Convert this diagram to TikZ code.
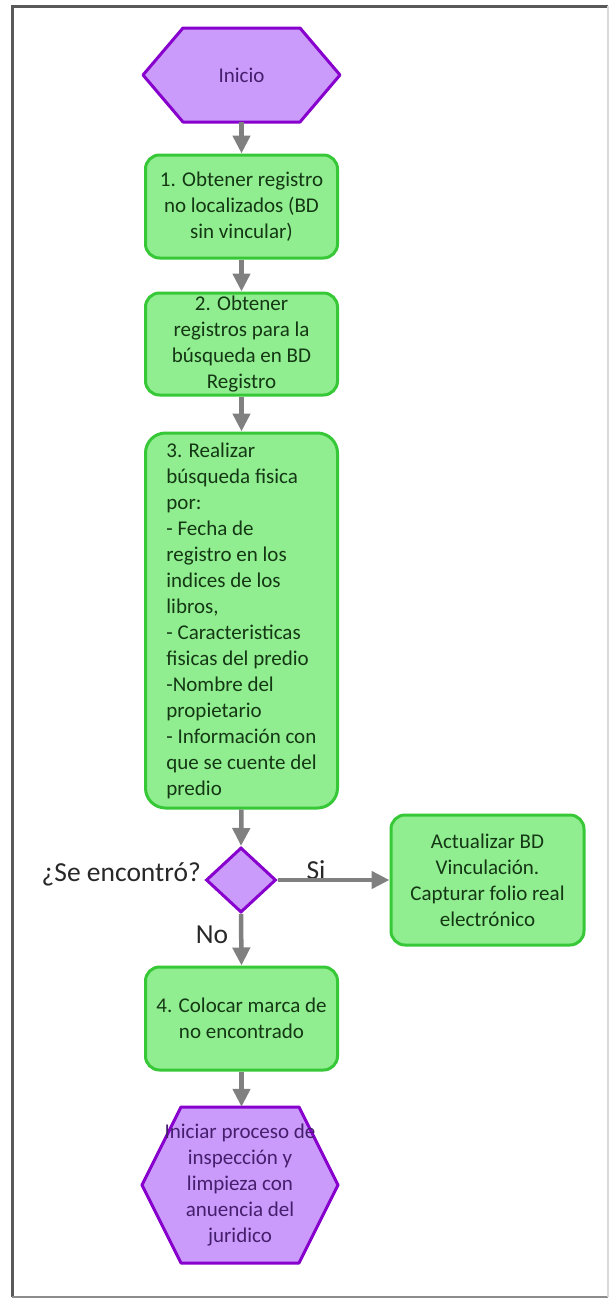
\documentclass[tikz,border=0pt]{standalone}
\usepackage{fontspec}
\setmainfont{Carlito}
\usetikzlibrary{arrows.meta,shapes.geometric}
\definecolor{gfill}{RGB}{144,238,144}
\definecolor{gdraw}{RGB}{55,200,55}
\definecolor{gtext}{RGB}{20,55,20}
\definecolor{pfill}{RGB}{202,155,250}
\definecolor{pdraw}{RGB}{135,0,205}
\definecolor{ptext}{RGB}{70,30,110}
\definecolor{arr}{RGB}{128,128,128}
\definecolor{lbl}{RGB}{40,40,40}
\begin{document}
\begin{tikzpicture}[x=1pt,y=-1pt,
  procbox/.style={rectangle, rounded corners=14pt, draw=gdraw, fill=gfill, line width=3pt, text=gtext, inner sep=0pt, minimum width=192pt, align=center, font=\fontsize{21}{26}\selectfont},
  hexlabel/.style={inner sep=0pt, text=ptext, align=center, font=\fontsize{21}{26}\selectfont},
  hexshape/.style={draw=pdraw, fill=pfill, line width=3pt, line join=round},
  flow/.style={draw=arr, line width=4.5pt, -{Triangle[length=18pt,width=17pt]}},
  lab/.style={text=lbl, font=\fontsize{27.5}{32}\selectfont, inner sep=0pt}
]
\fill[white] (0,0) rectangle (610,1299);
\useasboundingbox (0,0) rectangle (610,1299);
% frame
\draw[line width=3pt, black!65] (12,1297) -- (12,6) -- (608,6);
\draw[line width=2pt, black!45] (12,1297) -- (608,1297);
\draw[line width=1.5pt, black!15] (608,6) -- (608,1297);

% start hexagon
\path[hexshape] (143,75) -- (183,28) -- (300,28) -- (340,75) -- (300,122) -- (183,122) -- cycle;
\node[hexlabel, minimum width=197pt, minimum height=94pt] (start) at (241.5,75) {Inicio};

\node[procbox, minimum height=103pt] (b1) at (241.5,206.5) {1. Obtener registro\\no localizados (BD\\sin vincular)};
\node[procbox, minimum height=102pt] (b2) at (241.5,344) {2. Obtener\\registros para la\\búsqueda en BD\\Registro};
\node[procbox, rounded corners=20pt, minimum height=375pt, align=left] (b3) at (241.5,620.5) {3. Realizar\\búsqueda fisica\\por:\\- Fecha de\\registro en los\\indices de los\\libros,\\- Caracteristicas\\fisicas del predio\\-Nombre del\\propietario\\- Información con\\que se cuente del\\predio};

\node[diamond, draw=pdraw, fill=pfill, line width=3pt, minimum width=70pt, minimum height=65pt, inner sep=0pt] (dec) at (241,880) {};
\node[lab, anchor=east] (q) at (201,874) {¿Se encontró?};
\node[lab] (si) at (316,870) {Si};
\node[lab] (no) at (212,935) {No};

\node[procbox, minimum width=193pt, minimum height=130pt] (upd) at (487.5,880) {Actualizar BD\\Vinculación.\\Capturar folio real\\electrónico};

\node[procbox, minimum height=103pt] (b4) at (241.5,1018.5) {4. Colocar marca de\\no encontrado};

% end hexagon
\path[hexshape] (142,1185) -- (181,1107) -- (299,1107) -- (338,1185) -- (299,1263) -- (181,1263) -- cycle;
\node[hexlabel, minimum width=196pt, minimum height=156pt] (endn) at (240,1185) {Iniciar proceso de\\inspección y\\limpieza con\\anuencia del\\juridico};

\draw[flow] (start.south) -- (b1.north);
\draw[flow] (b1.south) -- (b2.north);
\draw[flow] (b2.south) -- (b3.north);
\draw[flow] (b3.south) -- (dec.north);
\draw[flow] (dec.east) -- (upd.west);
\draw[flow] (dec.south) -- (b4.north);
\draw[flow] (b4.south) -- (endn.north -| b4.south);
\end{tikzpicture}
\end{document}
